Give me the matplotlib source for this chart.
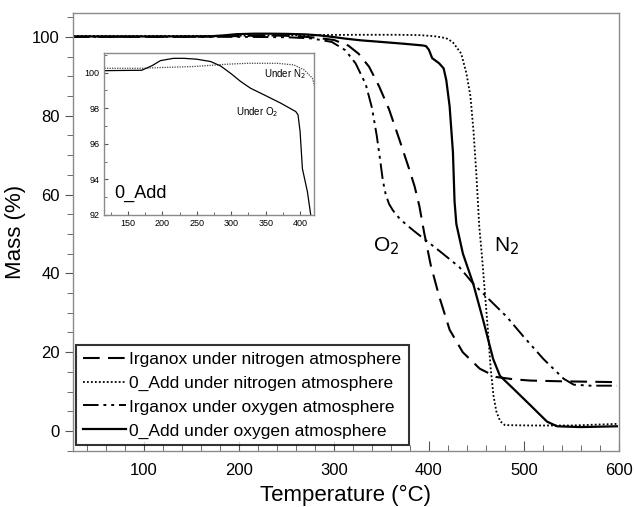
import numpy as np
import matplotlib
matplotlib.use("Agg")
import matplotlib.pyplot as plt
from matplotlib.ticker import MultipleLocator

plt.rcParams['font.family'] = ['Liberation Sans', 'DejaVu Sans']

# Irganox under nitrogen (dashed)
irg_n2_t = [25, 100, 150, 200, 230, 260, 280, 300, 315, 326, 337, 347.6, 358, 368.8, 379, 385,
            390, 395, 402, 411, 421.8, 435.6, 453.6, 471, 490, 506.6, 541.7, 570, 598]
irg_n2_m = [100, 100, 100, 100.2, 100.4, 100.2, 99.8, 99.2, 97.8, 95.7, 92.4, 87.4, 81.6, 74, 66.6, 62,
            57, 50.3, 42, 34, 25.7, 20, 15.8, 13.7, 13.1, 12.8, 12.6, 12.5, 12.4]

# 0_Add under nitrogen (dotted)
add_n2_t = [25, 115, 170, 197, 245.6, 294, 323, 367, 391, 406, 418, 425, 434, 439.5, 443.7, 447, 450,
            453, 456, 459, 462, 465, 468, 471, 475, 480, 506.6, 550, 598]
add_n2_m = [100.24, 100.24, 100.24, 100.28, 100.34, 100.47, 100.52, 100.52, 100.43, 100.15, 99.68, 98.7,
            95.75, 90.75, 85, 76, 65, 52, 44, 35, 26, 16, 9, 5, 2.5, 1.5, 1.4, 1.4, 1.8]

# Irganox under oxygen (dash-dot-dot)
irg_o2_t = [25, 100, 200, 250, 276.5, 297.7, 312, 322.8, 333.4, 340, 345, 348.5, 351.5, 354.5, 358,
            362, 368, 375, 384, 393.5, 411, 432, 446.6, 464, 481.9, 499.5, 520.7, 542, 552.6, 570, 598]
irg_o2_m = [100, 100, 100, 99.9, 99.6, 98.7, 96.6, 93.25, 88, 82, 75, 69, 63.5, 60, 57.6,
            56, 54.2, 52.6, 50.8, 49, 45.7, 41.6, 37.4, 33.25, 29, 24, 18.25, 13.25, 11.75, 11.5, 11.5]

# 0_Add under oxygen (solid)
add_o2_t = [25, 100, 170, 185, 197, 216, 231, 250, 270, 284.5, 299, 313.6, 328, 347.6, 372, 393.7,
            397, 400, 403.4, 410.7, 415.5, 418.3, 421.8, 425.3, 427, 428.9, 435.8, 446.6, 457,
            467.7, 474.8, 488.9, 506.6, 524.3, 534.9, 560, 598]
add_o2_m = [100.1, 100.1, 100.13, 100.39, 100.67, 100.8, 100.8, 100.75, 100.62, 100.37, 99.96, 99.5,
            99.12, 98.75, 98.28, 97.81, 97.63, 96.7, 94.6, 93.3, 92, 89, 82.4, 70.75, 58.25, 52.5,
            45, 37.4, 28.25, 18.25, 14, 10.75, 6.6, 2.4, 1.2, 1.0, 1.2]

labels = ["Irganox under nitrogen atmosphere", "0_Add under nitrogen atmosphere",
          "Irganox under oxygen atmosphere", "0_Add under oxygen atmosphere"]

fig = plt.figure(figsize=(6.34, 5.07), dpi=100)
ax = fig.add_axes([0.115, 0.111, 0.861, 0.863])

ax.plot(irg_n2_t, irg_n2_m, color='k', lw=1.5, ls=(0, (8, 4)), label=labels[0])
ax.plot(add_n2_t, add_n2_m, color='k', lw=1.3, ls=(0, (1, 1.2)), label=labels[1])
ax.plot(irg_o2_t, irg_o2_m, color='k', lw=1.4, ls=(0, (8, 2.5, 1.5, 2.5, 1.5, 2.5)), label=labels[2])
ax.plot(add_o2_t, add_o2_m, color='k', lw=1.6, label=labels[3])

ax.set_xlim(25, 600)
ax.set_ylim(-5, 106)
ax.xaxis.set_major_locator(MultipleLocator(100))
ax.xaxis.set_minor_locator(MultipleLocator(20))
ax.yaxis.set_major_locator(MultipleLocator(20))
ax.yaxis.set_minor_locator(MultipleLocator(5))
ax.tick_params(axis='x', which='both', direction='in', labelsize=12, pad=9, color='#555555')
ax.tick_params(axis='x', which='major', length=7)
ax.tick_params(axis='x', which='minor', length=4)
ax.tick_params(axis='y', which='both', direction='out', labelsize=12, color='#555555')
ax.tick_params(axis='y', which='major', length=6)
ax.tick_params(axis='y', which='minor', length=4)
for s in ax.spines.values():
    s.set_color('#8a8a8a')
    s.set_linewidth(1.0)

ax.set_xlabel("Temperature (°C)", fontsize=16, labelpad=5)
ax.set_ylabel("Mass (%)", fontsize=16, labelpad=4)

ax.text(355, 46.8, "O$_2$", fontsize=15, ha='center', va='center')
ax.text(481.5, 46.8, "N$_2$", fontsize=15, ha='center', va='center')

leg = ax.legend(loc='lower left', bbox_to_anchor=(0.005, 0.012), fontsize=12.5, frameon=True,
                fancybox=False, edgecolor='k', handlelength=2.5, handletextpad=0.2,
                labelspacing=0.5, borderpad=0.4, borderaxespad=0)
leg.get_frame().set_linewidth(1.5)

# inset
ins = fig.add_axes([0.164, 0.576, 0.331, 0.3195])
ins.plot(add_n2_t, add_n2_m, color='#444444', lw=0.9, ls=(0, (1, 1)))
ins.plot(add_o2_t, add_o2_m, color='k', lw=0.9)
ins.set_xlim(115, 420)
ins.set_ylim(92, 101.1)
ins.xaxis.set_major_locator(MultipleLocator(50))
ins.xaxis.set_minor_locator(MultipleLocator(25))
ins.yaxis.set_major_locator(MultipleLocator(2))
ins.yaxis.set_minor_locator(MultipleLocator(1))
ins.tick_params(which='both', direction='in', labelsize=6.5, color='#555555', pad=3)
ins.tick_params(which='major', length=3)
ins.tick_params(which='minor', length=2)
for s in ins.spines.values():
    s.set_color('#8a8a8a')
    s.set_linewidth(1.0)
ins.text(130, 92.95, "0_Add", fontsize=13, ha='left', va='baseline')
ins.text(408, 99.9, "Under N$_2$", fontsize=7, ha='right', va='center')
ins.text(368, 97.8, "Under O$_2$", fontsize=7, ha='right', va='center')

fig.savefig("out.png", dpi=100)
